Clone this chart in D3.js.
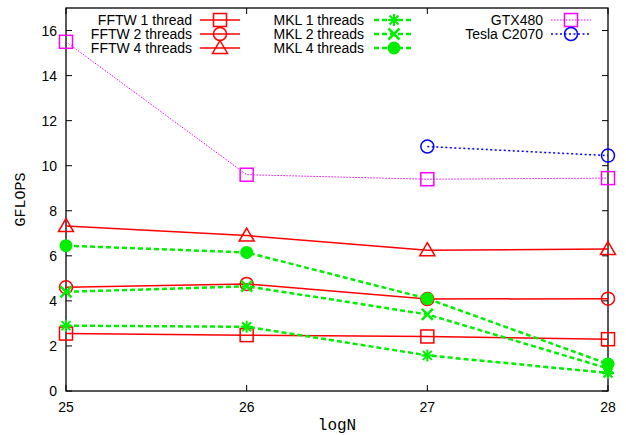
<!DOCTYPE html>
<html>
<head>
<meta charset="utf-8">
<script src="https://cdn.jsdelivr.net/npm/d3@7"></script>
<style>
  body { margin: 0; background: #fff; }
  text { font-family: "Liberation Sans", Arial, sans-serif; }
</style>
</head>
<body>
<div id="chart"></div>
<script>
// Chart dimensions and margins.
const width = 626;
const height = 435;
const margin = { top: 8, right: 18, bottom: 44, left: 66 };

// Data.
const logN = [25, 26, 27, 28];
const fftw1 = [2.55, 2.48, 2.42, 2.3];
const fftw2 = [4.6, 4.75, 4.08, 4.1];
const fftw4 = [7.32, 6.9, 6.25, 6.3];
const mkl1 = [2.9, 2.85, 1.58, 0.8];
const mkl2 = [4.4, 4.65, 3.4, 1.0];
const mkl4 = [6.45, 6.15, 4.1, 1.2];
const gtx480 = [15.5, 9.6, 9.4, 9.45];
const teslaN = [27, 28];
const tesla = [10.85, 10.45];
const yTicks = [0, 2, 4, 6, 8, 10, 12, 14, 16];
const xTicks = [25, 26, 27, 28];

const series = [
  { name: "FFTW 1 thread", x: logN, y: fftw1, color: "#ff0000", width: 1.5, dash: null, marker: "square" },
  { name: "FFTW 2 threads", x: logN, y: fftw2, color: "#ff0000", width: 1.5, dash: null, marker: "circle" },
  { name: "FFTW 4 threads", x: logN, y: fftw4, color: "#ff0000", width: 1.5, dash: null, marker: "triangle" },
  { name: "MKL 1 threads", x: logN, y: mkl1, color: "#00ee00", width: 2.5, dash: "5,3", marker: "star" },
  { name: "MKL 2 threads", x: logN, y: mkl2, color: "#00ee00", width: 2.5, dash: "5,3", marker: "cross" },
  { name: "MKL 4 threads", x: logN, y: mkl4, color: "#00ee00", width: 2.5, dash: "5,3", marker: "dot" },
  { name: "GTX480", x: logN, y: gtx480, color: "#ff00ff", width: 1, dash: "1.5,1.5", marker: "square" },
  { name: "Tesla C2070", x: teslaN, y: tesla, color: "#0000ff", width: 1.5, dash: "2,2.5", marker: "circle" }
];

const svg = d3.select("#chart").append("svg")
  .attr("width", width)
  .attr("height", height);

const x = d3.scaleLinear()
  .domain([25, 28])
  .range([margin.left, width - margin.right]);

const y = d3.scaleLinear()
  .domain([0, 17])
  .range([height - margin.bottom, margin.top]);

const x0 = margin.left, x1 = width - margin.right;
const y0 = height - margin.bottom, y1 = margin.top;

// Ticks (inner, mirrored on top and right like gnuplot)
const tickLen = 6;
const ticks = svg.append("g").attr("stroke", "#000").attr("stroke-width", 1);
yTicks.forEach(v => {
  ticks.append("line").attr("x1", x0).attr("x2", x0 + tickLen).attr("y1", y(v)).attr("y2", y(v));
  ticks.append("line").attr("x1", x1).attr("x2", x1 - tickLen).attr("y1", y(v)).attr("y2", y(v));
  svg.append("text").attr("x", x0 - 9).attr("y", y(v) + 5)
    .attr("text-anchor", "end").attr("font-size", 14).text(v);
});
xTicks.forEach(v => {
  ticks.append("line").attr("x1", x(v)).attr("x2", x(v)).attr("y1", y0).attr("y2", y0 - tickLen);
  ticks.append("line").attr("x1", x(v)).attr("x2", x(v)).attr("y1", y1).attr("y2", y1 + tickLen);
  svg.append("text").attr("x", x(v)).attr("y", y0 + 21)
    .attr("text-anchor", "middle").attr("font-size", 14).text(v);
});

// Frame
svg.append("rect")
  .attr("x", x0).attr("y", y1)
  .attr("width", x1 - x0).attr("height", y0 - y1)
  .attr("fill", "none").attr("stroke", "#000").attr("stroke-width", 1.3);

// Axis labels
svg.append("text")
  .attr("transform", `translate(25,${(y0 + y1) / 2}) rotate(-90)`)
  .attr("text-anchor", "middle").attr("font-size", 15)
  .style("font-family", "'Liberation Mono', 'DejaVu Sans Mono', monospace")
  .text("GFLOPS");
svg.append("text")
  .attr("x", (x0 + x1) / 2).attr("y", height - 5)
  .attr("text-anchor", "middle").attr("font-size", 16)
  .style("font-family", "'Liberation Mono', 'DejaVu Sans Mono', monospace")
  .text("logN");

// Marker drawing
function drawMarker(g, type, cx, cy, color) {
  const s = 6.5;
  if (type === "square") {
    g.append("rect").attr("x", cx - s).attr("y", cy - s).attr("width", 2 * s).attr("height", 2 * s)
      .attr("fill", "none").attr("stroke", color).attr("stroke-width", 1.5);
  } else if (type === "circle") {
    g.append("circle").attr("cx", cx).attr("cy", cy).attr("r", s)
      .attr("fill", "none").attr("stroke", color).attr("stroke-width", 1.5);
  } else if (type === "triangle") {
    g.append("path").attr("d", `M${cx},${cy - 7.5}L${cx + 7.5},${cy + 5.5}L${cx - 7.5},${cy + 5.5}Z`)
      .attr("fill", "none").attr("stroke", color).attr("stroke-width", 1.5);
  } else if (type === "star") {
    const r = 6;
    g.append("path").attr("d",
      `M${cx - r},${cy}L${cx + r},${cy}M${cx},${cy - r}L${cx},${cy + r}` +
      `M${cx - r * 0.75},${cy - r * 0.75}L${cx + r * 0.75},${cy + r * 0.75}` +
      `M${cx - r * 0.75},${cy + r * 0.75}L${cx + r * 0.75},${cy - r * 0.75}`)
      .attr("stroke", color).attr("stroke-width", 2).attr("fill", "none");
  } else if (type === "cross") {
    const r = 5.5;
    g.append("path").attr("d", `M${cx - r},${cy - r}L${cx + r},${cy + r}M${cx - r},${cy + r}L${cx + r},${cy - r}`)
      .attr("stroke", color).attr("stroke-width", 2.5).attr("fill", "none");
  } else if (type === "dot") {
    g.append("circle").attr("cx", cx).attr("cy", cy).attr("r", 6.5).attr("fill", color);
  }
}

const line = d3.line().x(d => x(d[0])).y(d => y(d[1]));

series.forEach(s => {
  const pts = s.x.map((v, i) => [v, s.y[i]]);
  svg.append("path")
    .datum(pts)
    .attr("d", line)
    .attr("fill", "none")
    .attr("stroke", s.color)
    .attr("stroke-width", s.width)
    .attr("stroke-dasharray", s.dash);
  const g = svg.append("g");
  pts.forEach(p => drawMarker(g, s.marker, x(p[0]), y(p[1]), s.color));
});

// Legend
const legendCols = [
  { textX: 192, lineX: 200, items: series.slice(0, 3) },
  { textX: 364, lineX: 374, items: series.slice(3, 6) },
  { textX: 543, lineX: 551, items: series.slice(6, 8) }
];
const legendRows = [20, 34, 48];
legendCols.forEach(col => {
  col.items.forEach((s, i) => {
    const ly = legendRows[i];
    svg.append("text").attr("x", col.textX).attr("y", ly + 5)
      .attr("text-anchor", "end").attr("font-size", 14).text(s.name);
    svg.append("line")
      .attr("x1", col.lineX).attr("x2", col.lineX + 40)
      .attr("y1", ly).attr("y2", ly)
      .attr("stroke", s.color).attr("stroke-width", s.width)
      .attr("stroke-dasharray", s.dash);
    drawMarker(svg.append("g"), s.marker, col.lineX + 20, ly, s.color);
  });
});
</script>
</body>
</html>
